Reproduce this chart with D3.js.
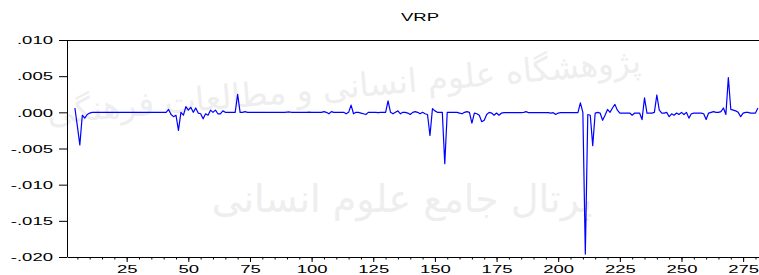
<!DOCTYPE html>
<html><head><meta charset="utf-8">
<script src="https://cdn.jsdelivr.net/npm/d3@7"></script>
<style>body{margin:0;background:#fff}svg{display:block}</style>
</head><body>
<svg id="c" width="759" height="275"></svg>
<script>
const title = "VRP";
const watermarkTop = "پژوهشگاه علوم انسانی و مطالعات فرهنگی";
const watermarkBottom = "پرتال جامع علوم انسانی";
const startObs = 4;
// VRP values, observation 4 .. 281
const vrp = [
  0.0006, -0.0019, -0.0045, -0.0004, -0.0008, -0.0003, -0.0001,             // 4-10
  0, 0, 0, 0, 0, 0, 0, 0, 0, 0,                                             // 11-20
  0, 0, 0, 0, 0, 0, 0, 0, 0, 0,                                             // 21-30
  0, 0, 0, 0, 0, 0, 0, 0, 0, 0,                                             // 31-40
  0, 0.0004, -0.0003, -0.0006, -0.0004, -0.0025, 0.0000, -0.0004, 0.0008, 0.0003, // 41-50
  0.0007, 0.0000, 0.0006, -0.0001, -0.0002, -0.0009, -0.0002, -0.0004, 0.0003, 0.0000, // 51-60
  0.0003, -0.0002, -0.0002, 0.0002, 0.0000, 0, 0, 0, 0, 0.0025,            // 61-70
  0.0000, 0, 0.0001, 0, 0, 0, 0, 0, 0, 0,                                   // 71-80
  0, 0, 0, 0, 0, 0, 0, 0, 0, 0.00003,                                       // 81-90
  0.00005, 0, 0, 0, 0, 0, 0, 0, 0.00003, 0,                                 // 91-100
  0, 0, 0, 0, 0.0001, 0.0000, -0.0002, 0.0001, 0.0000, 0,                   // 101-110
  0, 0, 0, -0.0002, 0.0000, 0.0010, -0.0002, 0.0000, 0.0000, -0.0001,       // 111-120
  -0.0002, -0.0003, 0.0000, 0, 0, 0, -0.00005, 0, 0, 0,                     // 121-130
  0.0016, 0.0000, -0.0002, 0.0000, 0.0002, -0.0002, 0.0000, 0.0000, -0.0001, -0.0003, // 131-140
  0.0000, 0.0001, 0.0000, -0.0002, 0.0000, -0.0002, -0.0003, -0.0032, 0.0005, 0.0002, // 141-150
  0.0000, 0.0000, 0.0000, -0.0071, 0.0000, 0.0000, 0.0000, 0.0000, 0.0000, -0.0001,   // 151-160
  -0.0002, 0.0000, 0.0001, 0.0000, -0.0015, -0.0001, -0.0002, -0.0004, -0.0013, -0.0011, // 161-170
  -0.0003, 0.0000, -0.0001, -0.0004, -0.0001, -0.0004, -0.0001, -0.00005, -0.00005, -0.00005, // 171-180
  -0.00005, -0.00005, -0.00005, -0.00005, -0.00005, 0.0000, 0.0001, -0.00005, -0.00005, -0.00005, // 181-190
  -0.00005, -0.00005, -0.00005, -0.00005, -0.00005, -0.00005, -0.0001, -0.00005, -0.0003, -0.0001, // 191-200
  -0.00005, -0.00005, -0.00005, -0.00005, -0.00005, -0.00005, -0.00005, -0.00005, 0.0013, 0.0000, // 201-210
  -0.0196, -0.0003, -0.0004, -0.0046, -0.0001, 0.0000, -0.0001, -0.0011, -0.0004, 0.0004, // 211-220
  0.0000, 0.0006, 0.0011, 0.0003, -0.0001, -0.0001, -0.0001, -0.0001, -0.0001, -0.0004, // 221-230
  -0.0001, -0.0001, -0.0001, -0.0010, 0.0020, -0.0001, -0.0001, -0.0001, 0.0000, 0.0024, // 231-240
  0.0003, -0.0001, -0.0001, 0.0000, -0.0006, -0.0002, -0.0004, -0.0001, -0.0003, 0.0000, // 241-250
  -0.0003, 0.0000, -0.0008, -0.0002, -0.0001, -0.0001, -0.0001, -0.0001, -0.0002, -0.0010, // 251-260
  -0.0001, 0.0000, 0.0001, 0.0000, 0.0000, 0.0001, 0.0006, -0.0003, 0.0048, 0.0004, // 261-270
  0.0003, 0.0002, 0.0000, -0.0006, -0.0001, 0.0000, 0.0000, -0.0001, -0.0001, -0.0001, // 271-280
  0.0006                                                                    // 281
];
const yTicks = [0.010, 0.005, 0.000, -0.005, -0.010, -0.015, -0.020];
const xTicks = [25, 50, 75, 100, 125, 150, 175, 200, 225, 250, 275];
const xMinorStep = 5;

(function () {
const svg = d3.select("#c");
const W = 759;
const mLeft = 67.5, mTop = 40, mBottom = 257;
const stretch = 1.8;
const fontFam = "'Liberation Sans', Arial, sans-serif";
const fs = 10.3;

const x = d3.scaleLinear().domain([1, 282]).range([mLeft, 760.4]);
const y = d3.scaleLinear().domain([-0.02, 0.01]).range([mBottom, mTop]);

// watermark
const wm = svg.append("g").attr("fill", "#eeeeee").attr("font-family", "'DejaVu Sans', sans-serif");
wm.append("text").attr("direction", "rtl")
  .attr("transform", "translate(345,98) rotate(-5)")
  .attr("text-anchor", "middle").attr("font-size", 33)
  .text(watermarkTop);
wm.append("text").attr("direction", "rtl")
  .attr("transform", "translate(402,212)")
  .attr("text-anchor", "middle").attr("font-size", 38)
  .text(watermarkBottom);

// title
svg.append("text")
  .attr("transform", `translate(420,20.7) scale(${stretch},1)`)
  .attr("text-anchor", "middle").attr("font-family", fontFam).attr("font-size", fs)
  .attr("fill", "#000").text(title);

const fmt = v => (v < 0 ? "-" : "") + Math.abs(v).toFixed(3).replace(/^0/, "");

// left axis
const gy = svg.append("g").attr("transform", `translate(${mLeft - 0.5},0)`)
  .call(d3.axisLeft(y).tickValues(yTicks).tickSize(8).tickSizeOuter(0).tickFormat(fmt));
gy.select(".domain").attr("stroke", "#000");
gy.selectAll(".tick line").attr("stroke", "#000");
gy.selectAll(".tick text")
  .attr("x", -14 / stretch).attr("dy", "0.36em")
  .attr("transform", `scale(${stretch},1)`)
  .attr("font-family", fontFam).attr("font-size", fs).attr("fill", "#000");

// bottom axis minor
const minorVals = d3.range(xMinorStep, 282, xMinorStep);
const gxm = svg.append("g").attr("transform", `translate(0,${mBottom})`)
  .call(d3.axisBottom(x).tickValues(minorVals).tickSize(2.5).tickSizeOuter(0).tickFormat(""));
gxm.select(".domain").remove();
gxm.selectAll(".tick line").attr("stroke", "#000");

// bottom axis major
const gx = svg.append("g").attr("transform", `translate(0,${mBottom})`)
  .call(d3.axisBottom(x).tickValues(xTicks).tickSize(5).tickSizeOuter(0).tickFormat(d3.format("d")));
gx.select(".domain").attr("stroke", "#000");
gx.selectAll(".tick line").attr("stroke", "#000");
gx.selectAll(".tick text")
  .attr("y", 16).attr("dy", 0)
  .attr("transform", `scale(${stretch},1)`)
  .attr("font-family", fontFam).attr("font-size", fs).attr("fill", "#000");

// top frame line
svg.append("line").attr("x1", mLeft - 0.5).attr("x2", W + 2)
  .attr("y1", y(0.01) + 0.5).attr("y2", y(0.01) + 0.5)
  .attr("stroke", "#000");

// series line
const pts = vrp.map((v, i) => [startObs + i, v]);
svg.append("path").datum(pts)
  .attr("fill", "none").attr("stroke", "#0000ff").attr("stroke-width", 1.2)
  .attr("stroke-linejoin", "round")
  .attr("d", d3.line().x(d => x(d[0])).y(d => y(d[1])));
})();
</script>
</body></html>
